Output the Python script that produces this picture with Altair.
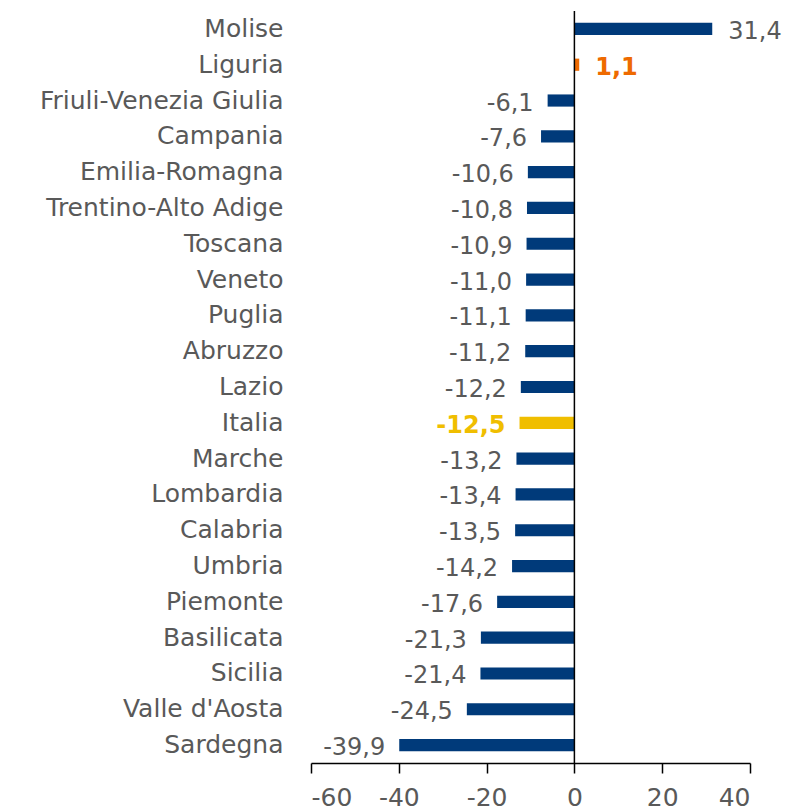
import altair as alt
import pandas as pd

regions = ["Molise", "Liguria", "Friuli-Venezia Giulia", "Campania", "Emilia-Romagna",
           "Trentino-Alto Adige", "Toscana", "Veneto", "Puglia", "Abruzzo", "Lazio",
           "Italia", "Marche", "Lombardia", "Calabria", "Umbria", "Piemonte",
           "Basilicata", "Sicilia", "Valle d'Aosta", "Sardegna"]
values = [31.4, 1.1, -6.1, -7.6, -10.6, -10.8, -10.9, -11.0, -11.1, -11.2, -12.2,
          -12.5, -13.2, -13.4, -13.5, -14.2, -17.6, -21.3, -21.4, -24.5, -39.9]
x_ticks = [-60, -40, -20, 0, 20, 40]

BLUE = "#003A7A"
GOLD = "#F0BE00"
ORANGE = "#EE6A00"
GRAY = "#595959"
FONT = "DejaVu Sans"

def bar_color(r):
    if r == "Italia":
        return GOLD
    if r == "Liguria":
        return ORANGE
    return BLUE

def text_color(r):
    if r == "Italia":
        return GOLD
    if r == "Liguria":
        return ORANGE
    return GRAY

df = pd.DataFrame({
    "region": regions,
    "value": values,
    "label": [f"{v:.1f}".replace(".", ",") for v in values],
    "bar_color": [bar_color(r) for r in regions],
    "text_color": [text_color(r) for r in regions],
    "bold": [r in ("Italia", "Liguria") for r in regions],
})

y_enc = alt.Y("region:N", sort=regions,
              scale=alt.Scale(paddingInner=0.66, paddingOuter=0.33),
              axis=alt.Axis(title=None, domain=False, ticks=False, labelFont=FONT,
                            labelFontSize=25, labelColor=GRAY, labelPadding=28,
                            minExtent=303, maxExtent=303, labelLimit=400))
x_scale = alt.Scale(domain=[-60, 40], nice=False)

base = alt.Chart(df)

bars = base.mark_bar().encode(
    x=alt.X("value:Q", scale=x_scale,
            axis=alt.Axis(title=None, values=x_ticks, grid=False, domainColor="black",
                          tickColor="black", tickSize=10, labelFont=FONT, labelFontSize=25,
                          labelColor=GRAY, labelPadding=12, domainWidth=1.5, tickWidth=1.5,
                          labelExpr="datum.value < 0 ? '-' + abs(datum.value) : '' + datum.value")),
    y=y_enc,
    color=alt.Color("bar_color:N", scale=None),
)

zero = alt.Chart(pd.DataFrame({"z": [0]})).mark_rule(color="black", strokeWidth=1.5).encode(
    x=alt.X("z:Q", scale=x_scale)
)

def labels(neg, bold):
    sub = base.transform_filter(
        ("datum.value < 0" if neg else "datum.value >= 0") +
        (" && datum.bold" if bold else " && !datum.bold")
    )
    return sub.mark_text(
        align="right" if neg else "left", dx=-14 if neg else 16, dy=3,
        font=FONT, fontSize=24, fontWeight="bold" if bold else "normal",
    ).encode(
        x=alt.X("value:Q", scale=x_scale),
        y=alt.Y("region:N", sort=regions),
        text="label:N",
        color=alt.Color("text_color:N", scale=None),
    )

chart = alt.layer(
    bars, zero,
    labels(True, False), labels(True, True), labels(False, False), labels(False, True)
).properties(
    width=439, height=752,
    padding={"left": 0, "top": 2, "right": 0, "bottom": 0},
).configure_view(stroke=None)

chart.save("out.html", embed_options={"renderer": "svg", "actions": False})
